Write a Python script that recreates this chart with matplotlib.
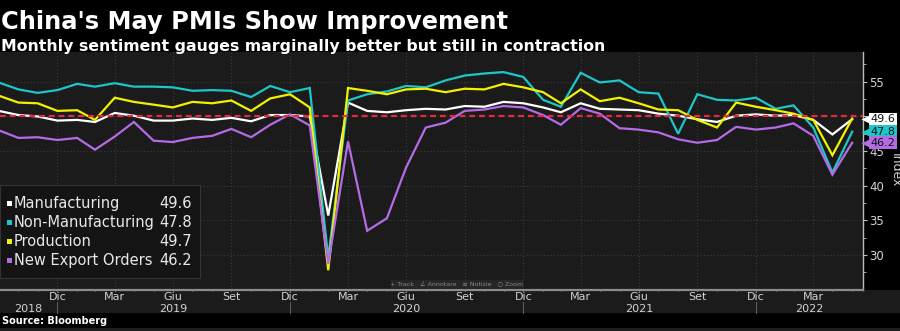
import matplotlib
matplotlib.use("Agg")
import matplotlib.pyplot as plt
import matplotlib.dates as mdates
from matplotlib.patches import Rectangle
from matplotlib.lines import Line2D
from matplotlib.ticker import FixedLocator, FuncFormatter
from matplotlib.transforms import blended_transform_factory
import pandas as pd

# Monthly data, Sep 2018 - May 2022 (month-end points)
months = pd.date_range("2018-09-30", "2022-05-31", freq="ME")

manufacturing = [
    50.8, 50.2, 50.0, 49.4,
    49.5, 49.2, 50.5, 50.1, 49.4, 49.4, 49.7, 49.5, 49.8, 49.3, 50.2, 50.2,
    50.0, 35.7, 52.0, 50.8, 50.6, 50.9, 51.1, 51.0, 51.5, 51.4, 52.1, 51.9,
    51.3, 50.6, 51.9, 51.1, 51.0, 50.9, 50.4, 50.1, 49.6, 49.2, 50.1, 50.3,
    50.1, 50.2, 49.5, 47.4, 49.6,
]
non_manufacturing = [
    54.9, 53.9, 53.4, 53.8,
    54.7, 54.3, 54.8, 54.3, 54.3, 54.2, 53.7, 53.8, 53.7, 52.8, 54.4, 53.5,
    54.1, 29.6, 52.3, 53.2, 53.6, 54.4, 54.2, 55.2, 55.9, 56.2, 56.4, 55.7,
    52.4, 51.4, 56.3, 54.9, 55.2, 53.5, 53.3, 47.5, 53.2, 52.4, 52.3, 52.7,
    51.1, 51.6, 48.4, 41.9, 47.8,
]
production = [
    53.0, 52.0, 51.9, 50.8,
    50.9, 49.5, 52.7, 52.1, 51.7, 51.3, 52.1, 51.9, 52.3, 50.8, 52.6, 53.2,
    51.3, 27.8, 54.1, 53.7, 53.2, 53.9, 54.0, 53.5, 54.0, 53.9, 54.7, 54.2,
    53.5, 51.9, 53.9, 52.2, 52.7, 51.9, 51.0, 50.9, 49.5, 48.4, 52.0, 51.4,
    50.9, 50.4, 49.5, 44.4, 49.7,
]
new_export_orders = [
    48.0, 46.9, 47.0, 46.6,
    46.9, 45.2, 47.1, 49.2, 46.5, 46.3, 46.9, 47.2, 48.2, 47.0, 48.8, 50.3,
    48.7, 28.7, 46.4, 33.5, 35.3, 42.6, 48.4, 49.1, 50.8, 51.0, 51.5, 51.3,
    50.2, 48.8, 51.2, 50.4, 48.3, 48.1, 47.7, 46.7, 46.2, 46.6, 48.5, 48.1,
    48.4, 49.0, 47.2, 41.6, 46.2,
]

series_names = ["Manufacturing", "Non-Manufacturing", "Production", "New Export Orders"]
series_values = [manufacturing, non_manufacturing, production, new_export_orders]
series_colors = ["#ffffff", "#1cc7c9", "#f2f200", "#b66be6"]
tagged = [True, True, False, True]  # production's tag sits behind manufacturing's

month_names = {3: "Mar", 6: "Giu", 9: "Set", 12: "Dic"}
years = [2018, 2019, 2020, 2021, 2022]
y_ticks = [30, 35, 40, 45, 50, 55]

W, H = 900, 331
BG = "#1b1b1b"
TXT = "#d2d2d2"


def fx(x):
    return x / W


def fy(y):
    return 1 - y / H


fig = plt.figure(figsize=(W / 100, H / 100), dpi=100, facecolor="black")
ax = fig.add_axes([0, fy(290), fx(863), (290 - 52) / H])
ax.set_facecolor(BG)

# bottom strip holding the date labels (drawn beneath the axes)
fig.patches.append(Rectangle((0, fy(313)), 1, (313 - 290) / H, transform=fig.transFigure,
                             facecolor=BG, edgecolor="none", zorder=-1))
fig.patches.append(Rectangle((0, 0), 1, 3 / H, transform=fig.transFigure,
                             facecolor="#1e1e1e", edgecolor="none", zorder=-1))

for vals, col in zip(series_values, series_colors):
    ax.plot(months, vals, color=col, lw=1.6, zorder=3, solid_joinstyle="miter")

ax.axhline(50, color="#e8283c", lw=1.6, ls=(0, (2.6, 1.8)), zorder=5)

ax.set_xlim(pd.Timestamp("2018-10-02"), pd.Timestamp("2022-06-17"))
ax.set_ylim(24.95, 59.3)

# x axis: quarterly labels, monthly minor ticks
quarter_ends = [d for d in months if d.month in month_names]
ax.xaxis.set_major_locator(FixedLocator(mdates.date2num(quarter_ends)))
ax.xaxis.set_minor_locator(FixedLocator(mdates.date2num(list(months))))
ax.xaxis.set_major_formatter(FuncFormatter(lambda v, p: month_names[mdates.num2date(v).month]))
ax.tick_params(axis="x", which="both", colors="#bdbdbd", labelcolor=TXT, length=2,
               direction="inout", labelsize=8, pad=0.5)

# y axis on the right; the 50 label is covered by the value tag in the original
ax.yaxis.tick_right()
ax.yaxis.set_major_locator(FixedLocator(y_ticks))
ax.yaxis.set_major_formatter(FuncFormatter(lambda v, p: "" if v == 50 else f"{v:.0f}"))
ax.yaxis.set_minor_locator(FixedLocator([t - 2.5 for t in y_ticks] + [57.5]))
ax.tick_params(axis="y", which="major", colors="#bdbdbd", labelcolor=TXT, length=3,
               labelsize=8.5, pad=1.5)
ax.tick_params(axis="y", which="minor", colors="#bdbdbd", length=2)

ax.grid(True, which="major", color="#3c3c3c", ls=(0, (1, 2)), lw=0.8)
for s in ["top", "left"]:
    ax.spines[s].set_visible(False)
ax.spines["right"].set_color("#bdbdbd")
ax.spines["right"].set_linewidth(1)
ax.spines["bottom"].set_color("#8c8c8c")
ax.spines["bottom"].set_linewidth(1.6)

fig.text(fx(895), fy(170), "Index", rotation=270, ha="center", va="center",
         color=TXT, fontsize=9)

# year labels centred on the visible span of each year, with separators
band = blended_transform_factory(ax.transData, fig.transFigure)
x0, x1 = ax.get_xlim()
for yr in years:
    start = max(mdates.date2num(pd.Timestamp(f"{yr - 1}-12-31")), x0)
    end = min(mdates.date2num(pd.Timestamp(f"{yr}-12-31")), x1)
    ax.text((start + end) / 2, fy(308.5), str(yr), transform=band, ha="center",
            va="center", color=TXT, fontsize=8, clip_on=False)
    if end < x1:
        fig.add_artist(Line2D([end, end], [fy(302), fy(313)], transform=band,
                              color="#5a5a5a", lw=0.8))

# value tags at the right edge
tag_tr = blended_transform_factory(ax.transAxes, ax.transData)
for name, vals, col, show in zip(series_names, series_values, series_colors, tagged):
    if not show:
        continue
    ax.plot([1.0035], [vals[-1]], marker="<", ms=6.5, color=col, mec="none",
            transform=tag_tr, clip_on=False, zorder=6)
    ax.text(1.0085, vals[-1], f"{vals[-1]:.1f}", transform=tag_tr, ha="left", va="center",
            fontsize=8, color="#111111", clip_on=False, zorder=7,
            bbox=dict(boxstyle="square,pad=0.14", fc=col, ec="none"))

# legend panel
fig.patches.append(Rectangle((0, fy(278)), fx(200), (278 - 185) / H, transform=fig.transFigure,
                             facecolor="#141414", edgecolor="#333333", lw=0.8, zorder=4))
for i, (name, vals, col) in enumerate(zip(series_names, series_values, series_colors)):
    yc = 203.5 + 19 * i
    fig.patches.append(Rectangle((fx(7), fy(yc + 2.5)), fx(5), 5 / H, transform=fig.transFigure,
                                 facecolor=col, edgecolor="none", zorder=5))
    fig.text(fx(14), fy(yc), name, ha="left", va="center", color="#e8e8e8",
             fontsize=10.5, zorder=6)
    fig.text(fx(192), fy(yc), f"{vals[-1]:.1f}", ha="right", va="center",
             color="#e8e8e8", fontsize=10.5, zorder=6)

# chart toolbar strip
fig.patches.append(Rectangle((fx(391), fy(288)), fx(132), 8 / H, transform=fig.transFigure,
                             facecolor="#262626", edgecolor="none", zorder=4))
fig.text(fx(457), fy(284), "+ Track   ∠ Annotare   ≡ Notizie   ○ Zoom", ha="center",
         va="center", color="#8a8a8a", fontsize=4.5, zorder=6)

# titles and source
fig.text(fx(1), fy(29.5), "China's May PMIs Show Improvement", ha="left", va="baseline",
         color="white", fontsize=17.4, weight="bold")
fig.text(fx(1), fy(51), "Monthly sentiment gauges marginally better but still in contraction",
         ha="left", va="baseline", color="white", fontsize=11.3, weight="bold")
fig.text(fx(2), fy(321), "Source: Bloomberg", ha="left", va="center", color="white",
         fontsize=7, weight="bold")

fig.savefig("out.png", dpi=100, facecolor="black")
